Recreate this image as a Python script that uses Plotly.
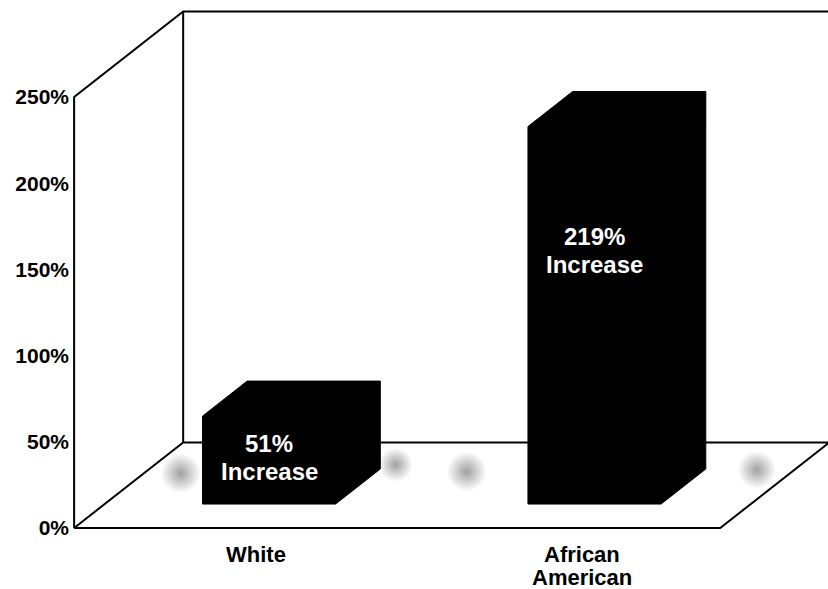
import plotly.graph_objects as go

# ---- data -------------------------------------------------------------
categories = ["White", "African American"]
increase_pct = [51, 219]
tick_values = [0, 50, 100, 150, 200, 250]
tick_labels = ["0%", "50%", "100%", "150%", "200%", "250%"]

# ---- oblique "3-D" projection ----------------------------------------
# a point (x, value, depth) is drawn at (x + depth*DX, value + depth*DY)
DX = 0.335          # horizontal shift (category units) for full depth
DY = 49.6           # vertical shift (percent units) for full depth
BAR_W = 0.409       # bar width in category units
BAR_Z0, BAR_Z1 = 0.28, 0.69   # front / back depth of the bars
FLOOR_X0, FLOOR_X1 = -0.505, 1.48
WALL_TOP = tick_values[-1]

# soft shading spots lying on the floor (x, depth, size)
spot_x = [-0.392, 0.235, 0.48, 1.365]
spot_z = [0.64, 0.74, 0.66, 0.68]
spot_size = [40, 34, 40, 38]

# text placement inside the bars (percent above the bar base)
label_mid = [27, 147]
LINE_GAP = 8.2

LINE = dict(color="black", width=2)
FONT = "Liberation Sans, Arial, Helvetica, sans-serif"


def proj(x, v, z):
    return x + z * DX, v + z * DY


def path(points):
    xs, ys = [], []
    for p in points:
        px, py = proj(*p)
        xs.append(px)
        ys.append(py)
    return xs, ys


fig = go.Figure()

# floor (white parallelogram)
fx, fy = path([(FLOOR_X0, 0, 0), (FLOOR_X1, 0, 0), (FLOOR_X1, 0, 1),
               (FLOOR_X0, 0, 1), (FLOOR_X0, 0, 0)])
fig.add_trace(go.Scatter(x=fx, y=fy, mode="lines", fill="toself",
                         fillcolor="white", line=LINE, hoverinfo="skip"))

# shading spots on the floor (grey centre fading to the white floor)
sx, sy = path([(x, 0, z) for x, z in zip(spot_x, spot_z)])
fig.add_trace(go.Scatter(
    x=sx, y=sy, mode="markers", hoverinfo="skip",
    marker=dict(size=spot_size, color="white",
                gradient=dict(type="radial", color="rgb(120,120,120)"),
                line=dict(width=0))))

# left wall outline, back wall outline
wx, wy = path([(FLOOR_X0, 0, 0), (FLOOR_X0, WALL_TOP, 0), (FLOOR_X0, WALL_TOP, 1),
               (FLOOR_X1 + 0.3, WALL_TOP, 1)])
fig.add_trace(go.Scatter(x=wx, y=wy, mode="lines", line=LINE, hoverinfo="skip"))
bx, by = path([(FLOOR_X0, WALL_TOP, 1), (FLOOR_X0, 0, 1)])
fig.add_trace(go.Scatter(x=bx, y=by, mode="lines", line=LINE, hoverinfo="skip"))

# bars: solid black silhouettes of boxes
for i, v in enumerate(increase_pct):
    x0, x1 = i - BAR_W / 2, i + BAR_W / 2
    px, py = path([(x0, 0, BAR_Z0), (x0, v, BAR_Z0), (x0, v, BAR_Z1),
                   (x1, v, BAR_Z1), (x1, 0, BAR_Z1), (x1, 0, BAR_Z0),
                   (x0, 0, BAR_Z0)])
    fig.add_trace(go.Scatter(x=px, y=py, mode="lines", fill="toself",
                             fillcolor="black", line=dict(color="black", width=1),
                             hoverinfo="skip"))
    cx, base = proj(i, 0, BAR_Z0)
    mid = base + label_mid[i]
    for txt, yy in ((f"{v}%", mid + LINE_GAP), ("Increase", mid - LINE_GAP)):
        fig.add_annotation(x=cx, y=yy, text=txt, showarrow=False,
                           xanchor="center", yanchor="middle",
                           font=dict(family=FONT, size=24, color="white",
                                     weight="bold"))

# category names below the floor
for i, name in enumerate(categories):
    for k, word in enumerate(name.split(" ")):
        fig.add_annotation(x=i + 0.055, y=-15.2 - 13.6 * k, text=word,
                           showarrow=False, xanchor="center", yanchor="middle",
                           font=dict(family=FONT, size=22, color="black",
                                     weight="bold"))

fig.update_layout(
    width=828, height=589,
    margin=dict(l=70, r=0, t=0, b=0),
    paper_bgcolor="white", plot_bgcolor="white",
    showlegend=False,
    xaxis=dict(range=[-0.5177, 1.8111], visible=False, fixedrange=True),
    yaxis=dict(range=[-35.4, 306.3], tickvals=tick_values, ticktext=tick_labels,
               showgrid=False, zeroline=False, showline=False, ticks="",
               tickfont=dict(family=FONT, size=21, color="black", weight="bold"),
               fixedrange=True),
)

fig.write_html("out.html")
